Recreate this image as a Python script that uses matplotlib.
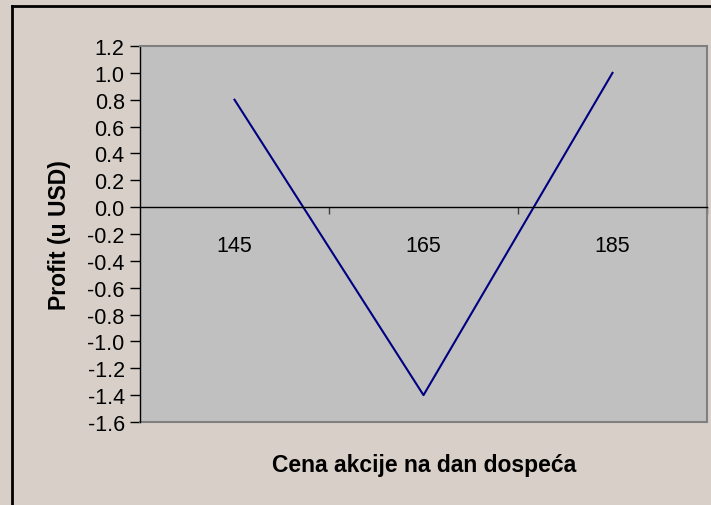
import matplotlib
matplotlib.use("Agg")
import matplotlib.pyplot as plt
from matplotlib.lines import Line2D
from matplotlib.ticker import FixedLocator, NullFormatter, FixedFormatter

# data
prices = [145, 165, 185]
profit = [0.8, -1.4, 1.0]
y_ticks = [1.2, 1.0, 0.8, 0.6, 0.4, 0.2, 0.0, -0.2, -0.4, -0.6, -0.8, -1.0, -1.2, -1.4, -1.6]
price_labels = ["145", "165", "185"]

plt.rcParams['font.family'] = ['Liberation Sans', 'DejaVu Sans']

bg = "#d8d0c8"
fig = plt.figure(figsize=(7.11, 5.06), dpi=100, facecolor=bg)
ax = fig.add_axes([140/711, 1-423/506, 567/711, 376/506])
ax.set_facecolor("#c0c0c0")

ax.plot(prices, profit, color="#000080", linewidth=1.5)

ax.set_xlim(135, 195)
ax.set_ylim(-1.6, 1.2)

# y axis
ax.set_yticks(y_ticks)
ax.set_yticklabels(["%.1f" % v for v in y_ticks], fontsize=15.5)
ax.tick_params(axis="y", direction="out", length=7, width=1, color="black", pad=4)

# x axis sits on zero, ticks between the categories
ax.spines["bottom"].set_position(("data", 0))
ax.spines["bottom"].set_color("black")
ax.spines["bottom"].set_linewidth(1)
ax.xaxis.set_major_locator(FixedLocator([155, 175, 195]))
ax.xaxis.set_major_formatter(NullFormatter())
ax.xaxis.set_minor_locator(FixedLocator(prices))
ax.xaxis.set_minor_formatter(FixedFormatter(price_labels))
ax.tick_params(axis="x", which="major", direction="out", length=5, width=1, color="#404040")
ax.tick_params(axis="x", which="minor", length=0, labelsize=15.5, pad=20)

ax.spines["left"].set_color("black")
ax.spines["left"].set_linewidth(1)
ax.spines["top"].set_color("#808080")
ax.spines["right"].set_color("#808080")
ax.spines["top"].set_linewidth(1.5)
ax.spines["right"].set_linewidth(1.5)

# gray bottom edge of plot area (spine moved to zero)
ax.axhline(-1.6, color="#808080", linewidth=1.5, clip_on=False)

ax.set_ylabel("Profit (u USD)", fontsize=16.5, fontweight="bold", labelpad=12)
fig.text(424/711, 1-466/506, "Cena akcije na dan dospeća", fontsize=16.5,
         fontweight="bold", ha="center", va="center")

# outer chart border, only top and left show in the picture
fig.lines.append(Line2D([12/711, 12/711], [0, 1-7/506], transform=fig.transFigure,
                        color="black", linewidth=2))
fig.lines.append(Line2D([12/711, 1], [1-7/506, 1-7/506], transform=fig.transFigure,
                        color="black", linewidth=2))

fig.savefig("out.png", dpi=100, facecolor=bg)
